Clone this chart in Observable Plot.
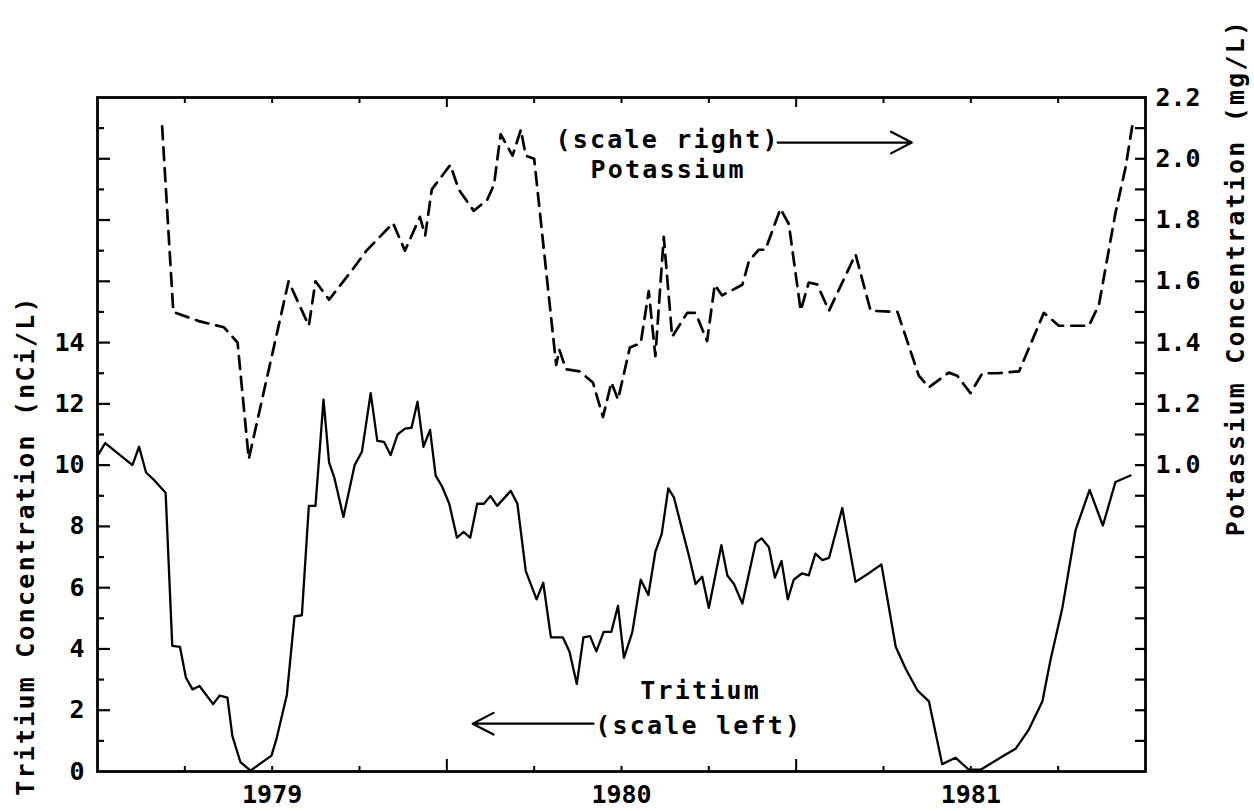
<!DOCTYPE html>
<html><head><meta charset="utf-8">
<script src="https://cdn.jsdelivr.net/npm/d3@7"></script>
<script src="https://cdn.jsdelivr.net/npm/@observablehq/plot@0.6"></script>
<style>
html,body{margin:0;padding:0;background:#fff;}
#chart svg{display:block;}
</style></head><body><div id="chart"></div>
<script>
// ---- tick labels ----
const yearLabels = ["1979", "1980", "1981"];
const tritiumTicks = [0, 2, 4, 6, 8, 10, 12, 14];
const potassiumTicks = [1.0, 1.2, 1.4, 1.6, 1.8, 2.0, 2.2];

// ---- Tritium (nCi/L), decimal year ----
const tritiumYear = [1979.000,1979.022,1979.100,1979.119,1979.139,1979.163,1979.195,1979.214,1979.236,1979.253,1979.272,1979.292,1979.331,1979.350,1979.372,1979.386,1979.409,1979.438,1979.498,1979.513,1979.542,1979.564,1979.585,1979.605,1979.624,1979.647,1979.663,1979.678,1979.704,1979.736,1979.757,1979.782,1979.801,1979.820,1979.839,1979.859,1979.880,1979.899,1979.916,1979.933,1979.952,1979.968,1979.986,1980.007,1980.029,1980.048,1980.067,1980.087,1980.106,1980.125,1980.144,1980.183,1980.202,1980.226,1980.257,1980.276,1980.298,1980.332,1980.351,1980.372,1980.391,1980.410,1980.428,1980.449,1980.471,1980.490,1980.507,1980.531,1980.555,1980.577,1980.597,1980.615,1980.634,1980.650,1980.669,1980.693,1980.712,1980.731,1980.750,1980.786,1980.803,1980.822,1980.846,1980.884,1980.901,1980.922,1980.939,1980.958,1980.976,1980.993,1981.017,1981.036,1981.055,1981.075,1981.094,1981.132,1981.170,1981.208,1981.244,1981.285,1981.313,1981.347,1981.380,1981.418,1981.456,1981.494,1981.528,1981.595,1981.628,1981.666,1981.705,1981.728,1981.762,1981.800,1981.840,1981.878,1981.914,1981.957];
const tritiumValue = [10.3,10.72,10.0,10.6,9.76,9.5,9.1,4.1,4.07,3.07,2.68,2.79,2.2,2.48,2.41,1.16,0.31,0.03,0.52,1.09,2.5,5.06,5.1,8.67,8.67,12.14,10.08,9.59,8.31,10.0,10.44,12.35,10.79,10.76,10.33,11.0,11.19,11.22,12.07,10.6,11.15,9.66,9.31,8.74,7.63,7.82,7.63,8.74,8.74,8.99,8.67,9.16,8.74,6.54,5.62,6.16,4.38,4.38,3.92,2.86,4.38,4.42,3.92,4.56,4.56,5.41,3.71,4.55,6.26,5.76,7.18,7.75,9.24,8.95,8.1,7.04,6.12,6.36,5.34,7.39,6.4,6.12,5.48,7.46,7.61,7.32,6.33,6.87,5.62,6.26,6.47,6.4,7.11,6.9,6.97,8.6,6.19,6.47,6.76,4.07,3.36,2.65,2.29,0.24,0.45,0.06,0.06,0.52,0.74,1.37,2.29,3.64,5.34,7.89,9.19,8.03,9.45,9.66];

// ---- Potassium (mg/L), decimal year ----
const potassiumYear = [1979.185,1979.217,1979.290,1979.362,1979.401,1979.433,1979.547,1979.605,1979.624,1979.663,1979.731,1979.770,1979.846,1979.880,1979.923,1979.938,1979.957,1980.010,1980.034,1980.077,1980.115,1980.135,1980.154,1980.188,1980.212,1980.226,1980.250,1980.313,1980.322,1980.341,1980.380,1980.418,1980.447,1980.471,1980.490,1980.524,1980.555,1980.578,1980.597,1980.621,1980.645,1980.688,1980.712,1980.745,1980.767,1980.788,1980.846,1980.865,1980.893,1980.912,1980.955,1980.979,1981.013,1981.036,1981.060,1981.094,1981.170,1981.213,1981.290,1981.351,1981.380,1981.437,1981.461,1981.499,1981.533,1981.576,1981.638,1981.709,1981.752,1981.838,1981.867,1981.914,1981.943,1981.962];
const potassiumValue = [2.106,1.50,1.47,1.45,1.40,1.02,1.60,1.455,1.60,1.54,1.64,1.70,1.79,1.70,1.81,1.75,1.90,1.98,1.90,1.83,1.865,1.915,2.08,2.01,2.095,2.01,2.00,1.327,1.377,1.313,1.306,1.27,1.157,1.27,1.214,1.384,1.398,1.568,1.356,1.745,1.419,1.497,1.497,1.405,1.589,1.554,1.589,1.667,1.703,1.703,1.837,1.787,1.504,1.596,1.59,1.504,1.688,1.504,1.50,1.292,1.254,1.302,1.292,1.235,1.30,1.30,1.306,1.497,1.455,1.455,1.525,1.823,1.972,2.106];

// ---- annotations (text, x in years, y in left-axis units) ----
const noteText = ["(scale right)", "Potassium", "Tritium", "(scale left)"];
const noteX = [1980.311, 1980.411, 1980.554, 1980.425];
const noteY = [20.6, 19.64, 2.64, 1.50];
const arrowX1 = [1980.947, 1980.420];
const arrowX2 = [1981.331, 1980.074];
const arrowY = [20.53, 1.56];

// ---- build ----
const K = 10; // right axis = left axis / 10
const W = 1254, H = 811;
const mL = 97, mR = 109, mT = 97, mB = 40;
const innerW = W - mL - mR, innerH = H - mT - mB;
const font = "'DejaVu Sans Mono', monospace";

const tritium = tritiumYear.map((t, i) => ({t, v: tritiumValue[i]}));
const potassium = potassiumYear.map((t, i) => ({t, v: potassiumValue[i] * K}));
const notes = noteText.map((s, i) => ({s, x: noteX[i], y: noteY[i]}));
const arrows = arrowX1.map((x1, i) => ({x1, x2: arrowX2[i], y: arrowY[i]}));

const unitTicks = d3.range(1, 22);
const leftMajor = unitTicks.filter(d => d % 2 === 0);
const leftMinor = unitTicks.filter(d => d % 2 === 1);
const quarterTicks = d3.range(1979.25, 1982, 0.25).filter(d => Math.abs(d - Math.round(d)) > 0.01);
const yearTicks = [1980, 1981];
const yearLabelPos = yearLabels.map(s => +s + 0.5);

const chart = Plot.plot({
  width: W, height: H,
  marginLeft: mL, marginRight: mR, marginTop: mT, marginBottom: mB,
  x: {domain: [1979, 1982]},
  y: {domain: [0, 22]},
  style: {fontFamily: font, fontSize: "25px", fontWeight: "bold", color: "#000", background: "#fff"},
  marks: [
    Plot.tickY(leftMajor, {insetRight: innerW - 13, stroke: "#000", strokeWidth: 2.2}),
    Plot.tickY(leftMinor, {insetRight: innerW - 7, stroke: "#000", strokeWidth: 2.2}),
    Plot.tickY(unitTicks, {insetLeft: innerW - 10, stroke: "#000", strokeWidth: 2.2}),
    Plot.tickX(quarterTicks, {insetTop: innerH - 5, stroke: "#000", strokeWidth: 2}),
    Plot.tickX(quarterTicks, {insetBottom: innerH - 6, stroke: "#000", strokeWidth: 2}),
    Plot.tickX(yearTicks, {insetTop: innerH - 12, stroke: "#000", strokeWidth: 2}),
    Plot.tickX(yearTicks, {insetBottom: innerH - 10, stroke: "#000", strokeWidth: 2}),
    Plot.frame({stroke: "#000", strokeWidth: 2.8}),
    Plot.axisY(tritiumTicks, {anchor: "left", tickSize: 0, tickPadding: 13, label: null, fontSize: 25, fontWeight: "bold"}),
    Plot.axisY(potassiumTicks.map(k => k * K), {anchor: "right", tickSize: 0, tickPadding: 10, label: null, fontSize: 25, fontWeight: "bold",
      tickFormat: d => (d / K).toFixed(1)}),
    Plot.axisX(yearLabelPos, {anchor: "bottom", tickSize: 0, tickPadding: 14, label: null, fontSize: 25, fontWeight: "bold",
      tickFormat: (d, i) => yearLabels[i]}),
    Plot.line(tritium, {x: "t", y: "v", stroke: "#000", strokeWidth: 2.3, strokeLinejoin: "round"}),
    Plot.line(potassium, {x: "t", y: "v", stroke: "#000", strokeWidth: 2.7, strokeDasharray: "13,8"}),
    Plot.text(notes, {x: "x", y: "y", text: "s", textAnchor: "start", fontSize: 25, fontWeight: "bold", fill: "#000"}),
    Plot.arrow(arrows, {x1: "x1", x2: "x2", y1: "y", y2: "y", stroke: "#000", strokeWidth: 2.2, headLength: 16, headAngle: 55}),
    Plot.text(["Tritium Concentration (nCi/L)"], {frameAnchor: "left", dx: -72, dy: 111, rotate: -90, textAnchor: "middle", fontSize: 25, fontWeight: "bold", fill: "#000"}),
    Plot.text(["Potassium Concentration (mg/L)"], {frameAnchor: "right", dx: 90, dy: -157, rotate: -90, textAnchor: "middle", fontSize: 25, fontWeight: "bold", fill: "#000"})
  ]
});
document.getElementById("chart").appendChild(chart);
d3.select(chart).selectAll('g[aria-label="text"] text').attr("letter-spacing", "2.2px");
</script>
</body></html>
